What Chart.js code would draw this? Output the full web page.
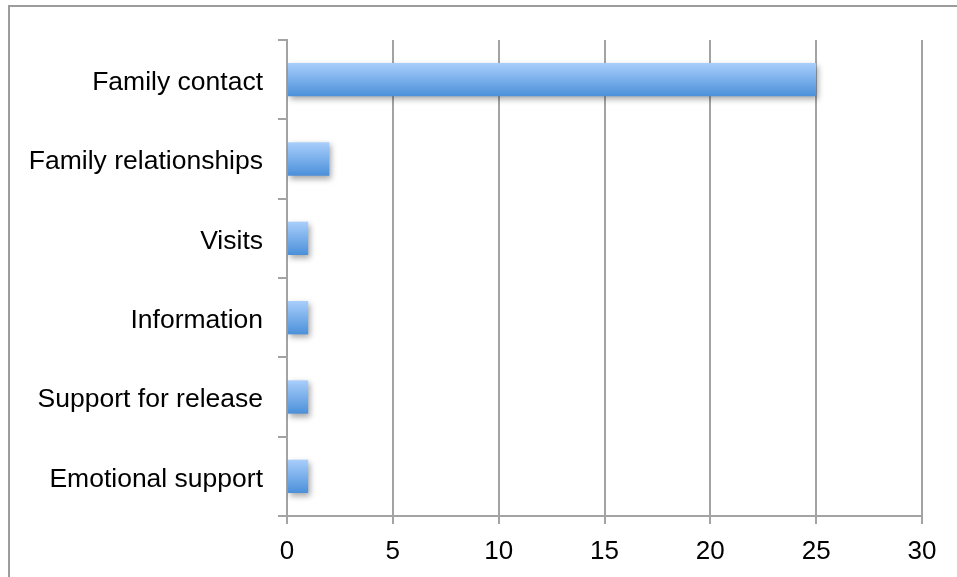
<!DOCTYPE html>
<html>
<head>
<meta charset="utf-8">
<script src="https://cdn.jsdelivr.net/npm/chart.js@4"></script>
<style>
    html, body { margin: 0; padding: 0; background: #fff; }
    #frame {
        position: absolute; left: 8px; top: 5px; right: 0; bottom: 0;
        border-top: 2px solid #9c9c9c; border-left: 2px solid #9c9c9c;
    }
    #wrap { position: absolute; left: 0; top: 0; width: 957px; height: 577px; }
</style>
</head>
<body>
<div id="frame"></div>
<div id="wrap"><canvas id="chart"></canvas></div>
<script>
const categories = ['Family contact', 'Family relationships', 'Visits', 'Information', 'Support for release', 'Emotional support'];
const counts = [25, 2, 1, 1, 1, 1];
const xTicks = [0, 5, 10, 15, 20, 25, 30];

const AXIS_COLOR = '#a3a3a3';

// вертикальный градиент для каждого столбика
function barGradient(context) {
    const chart = context.chart;
    const yScale = chart.scales.y;
    if (!yScale || !chart.chartArea) return '#7fb3ee';
    const center = yScale.getPixelForValue(context.dataIndex);
    const half = 17;
    const g = chart.ctx.createLinearGradient(0, center - half, 0, center + half);
    g.addColorStop(0, '#aacffc');
    g.addColorStop(1, '#4a8fd9');
    return g;
}

// тень под столбиками
const barShadow = {
    id: 'barShadow',
    beforeDatasetsDraw(chart) {
        const c = chart.ctx;
        c.save();
        c.shadowColor = 'rgba(0,0,0,0.35)';
        c.shadowBlur = 6;
        c.shadowOffsetX = 2;
        c.shadowOffsetY = 3;
    },
    afterDatasetsDraw(chart) {
        chart.ctx.restore();
    }
};

const ctx = document.getElementById('chart').getContext('2d');
new Chart(ctx, {
    type: 'bar',
    data: {
        labels: categories,
        datasets: [{
            data: counts,
            backgroundColor: barGradient,
            borderWidth: 0,
            categoryPercentage: 1,
            barPercentage: 0.42
        }]
    },
    plugins: [barShadow],
    options: {
        indexAxis: 'y',
        responsive: true,
        maintainAspectRatio: false,
        animation: false,
        layout: { padding: { top: 40, right: 35, left: 0, bottom: 0 } },
        plugins: {
            legend: { display: false },
            tooltip: { enabled: false }
        },
        scales: {
            x: {
                min: 0,
                max: 30,
                afterBuildTicks: scale => { scale.ticks = xTicks.map(v => ({ value: v })); },
                afterFit: scale => { scale.height = 61; },
                grid: {
                    color: AXIS_COLOR,
                    lineWidth: 2,
                    tickLength: 8,
                    drawTicks: true
                },
                border: { color: AXIS_COLOR, width: 2 },
                ticks: {
                    color: '#000',
                    padding: 12,
                    font: { family: 'Liberation Sans, Arial, sans-serif', size: 26 }
                }
            },
            y: {
                afterFit: scale => { scale.width = 287; },
                grid: {
                    color: AXIS_COLOR,
                    lineWidth: 2,
                    drawOnChartArea: false,
                    tickLength: 9,
                    offset: true
                },
                border: { color: AXIS_COLOR, width: 2 },
                ticks: {
                    color: '#000',
                    padding: 15,
                    labelOffset: 3,
                    font: { family: 'Liberation Sans, Arial, sans-serif', size: 26.5 }
                }
            }
        }
    }
});
</script>
</body>
</html>
